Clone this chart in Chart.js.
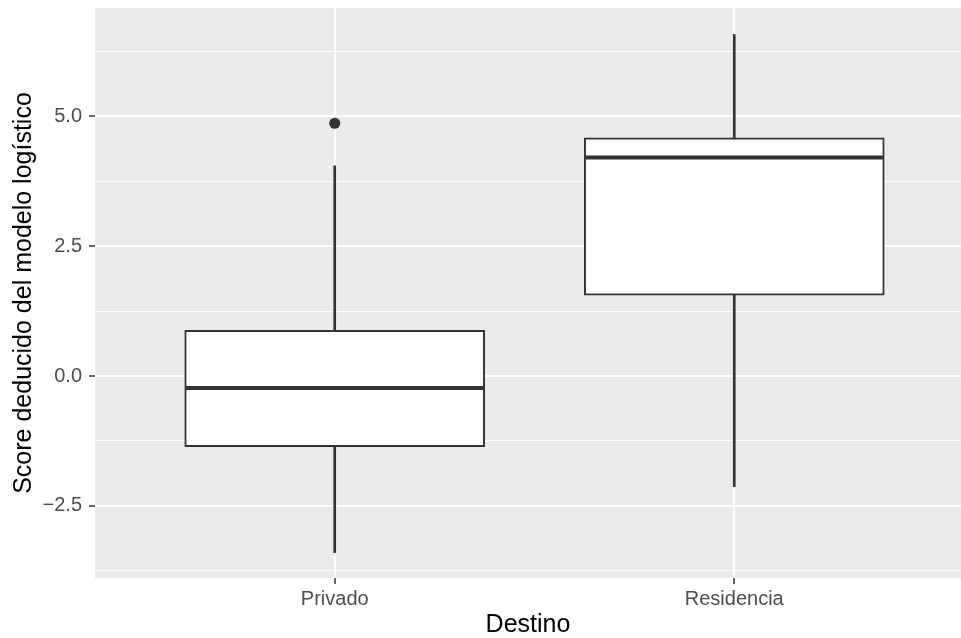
<!DOCTYPE html>
<html>
<head>
<meta charset="utf-8">
<script src="https://cdn.jsdelivr.net/npm/chart.js@4/dist/chart.umd.min.js"></script>
<style>
  body { margin: 0; background: #ffffff; }
  #wrap { width: 961px; height: 638px; }
</style>
</head>
<body>
<div id="wrap"><canvas id="boxChart" width="961" height="638"></canvas></div>
<script>
// Valeurs (boxplot ggplot)
const categories = ['Privado', 'Residencia'];
const lowerWhisker = [-3.40, -2.13];
const q1 = [-1.36, 1.56];
const median = [-0.23, 4.21];
const q3 = [0.88, 4.59];
const upperWhisker = [4.05, 6.58];
const outliers = [[4.87], []];

const yTicks = [-3.75, -2.5, -1.25, 0, 1.25, 2.5, 3.75, 5, 6.25];
const xTicks = [1, 2];

const ink = '#333333';

function isMajor(v) {
    return Math.abs(Math.round(v / 2.5) * 2.5 - v) < 1e-6;
}

// fond gris du panneau
const panelBg = {
    id: 'panelBg',
    beforeDraw(chart) {
        const { ctx, chartArea: a } = chart;
        ctx.save();
        ctx.fillStyle = '#EBEBEB';
        ctx.fillRect(a.left, a.top, a.right - a.left, a.bottom - a.top);
        ctx.restore();
    }
};

// ligne de la médiane sur chaque boîte
const medianLines = {
    id: 'medianLines',
    afterDatasetsDraw(chart) {
        const meta = chart.getDatasetMeta(2);
        const y = chart.scales.y;
        const ctx = chart.ctx;
        ctx.save();
        ctx.strokeStyle = ink;
        ctx.lineWidth = 4;
        meta.data.forEach((bar, i) => {
            const { x, width } = bar.getProps(['x', 'width'], true);
            const py = y.getPixelForValue(median[i]);
            ctx.beginPath();
            ctx.moveTo(x - width / 2 + 1, py);
            ctx.lineTo(x + width / 2 - 1, py);
            ctx.stroke();
        });
        ctx.restore();
    }
};

const pointData = [];
outliers.forEach((list, i) => list.forEach(v => pointData.push({ x: xTicks[i], y: v })));

const ctx = document.getElementById('boxChart').getContext('2d');
new Chart(ctx, {
    type: 'bar',
    data: {
        datasets: [
            {
                label: 'lower',
                data: categories.map((c, i) => ({ x: xTicks[i], y: [lowerWhisker[i], q1[i]] })),
                backgroundColor: ink,
                barThickness: 2,
                grouped: false,
                borderWidth: 0
            },
            {
                label: 'upper',
                data: categories.map((c, i) => ({ x: xTicks[i], y: [q3[i], upperWhisker[i]] })),
                backgroundColor: ink,
                barThickness: 2,
                grouped: false,
                borderWidth: 0
            },
            {
                label: 'box',
                data: categories.map((c, i) => ({ x: xTicks[i], y: [q1[i], q3[i]] })),
                backgroundColor: '#ffffff',
                borderColor: ink,
                borderWidth: 2,
                borderSkipped: false,
                barThickness: 300,
                grouped: false
            },
            {
                type: 'scatter',
                label: 'outliers',
                data: pointData,
                pointRadius: 5.5,
                pointBackgroundColor: ink,
                pointBorderWidth: 0
            }
        ]
    },
    options: {
        responsive: false,
        animation: false,
        layout: { autoPadding: false, padding: { top: 8, right: 0, left: 0, bottom: 0 } },
        plugins: {
            legend: { display: false },
            tooltip: { enabled: false }
        },
        scales: {
            x: {
                type: 'linear',
                min: 0.4,
                max: 2.5675,
                offset: false,
                afterBuildTicks: s => { s.ticks = xTicks.map(v => ({ value: v })); },
                afterFit: s => { s.height = 60; s.paddingLeft = 0; s.paddingRight = 0; },
                border: { display: false },
                grid: {
                    offset: false,
                    color: '#ffffff',
                    lineWidth: 2,
                    tickColor: ink,
                    tickLength: 6,
                    tickWidth: 1.5
                },
                ticks: {
                    autoSkip: false,
                    maxRotation: 0,
                    padding: 3,
                    color: '#4D4D4D',
                    font: { family: 'Liberation Sans', size: 20 },
                    callback: v => categories[Math.round(v) - 1]
                },
                title: {
                    display: true,
                    text: 'Destino',
                    color: '#000000',
                    font: { family: 'Liberation Sans', size: 25, lineHeight: 1 },
                    padding: { top: 0, bottom: 0 }
                }
            },
            y: {
                min: -3.89,
                max: 7.09,
                afterBuildTicks: s => { s.ticks = yTicks.map(v => ({ value: v })); },
                afterFit: s => { s.width = 95; s.paddingTop = 0; s.paddingBottom = 0; },
                border: { display: false },
                grid: {
                    color: '#ffffff',
                    lineWidth: c => (c.tick && isMajor(c.tick.value) ? 2 : 1),
                    tickColor: c => (c.tick && isMajor(c.tick.value) ? ink : 'rgba(0,0,0,0)'),
                    tickLength: 6,
                    tickWidth: 1.5
                },
                ticks: {
                    autoSkip: false,
                    padding: 7,
                    color: '#4D4D4D',
                    font: { family: 'Liberation Sans', size: 20 },
                    callback: v => (isMajor(v) ? v.toFixed(1).replace('-', '\u2212') : '')
                },
                title: {
                    display: true,
                    text: 'Score deducido del modelo logístico',
                    color: '#000000',
                    font: { family: 'Liberation Sans', size: 25 },
                    padding: { top: 9, bottom: 0 }
                }
            }
        }
    },
    plugins: [panelBg, medianLines]
});
</script>
</body>
</html>
